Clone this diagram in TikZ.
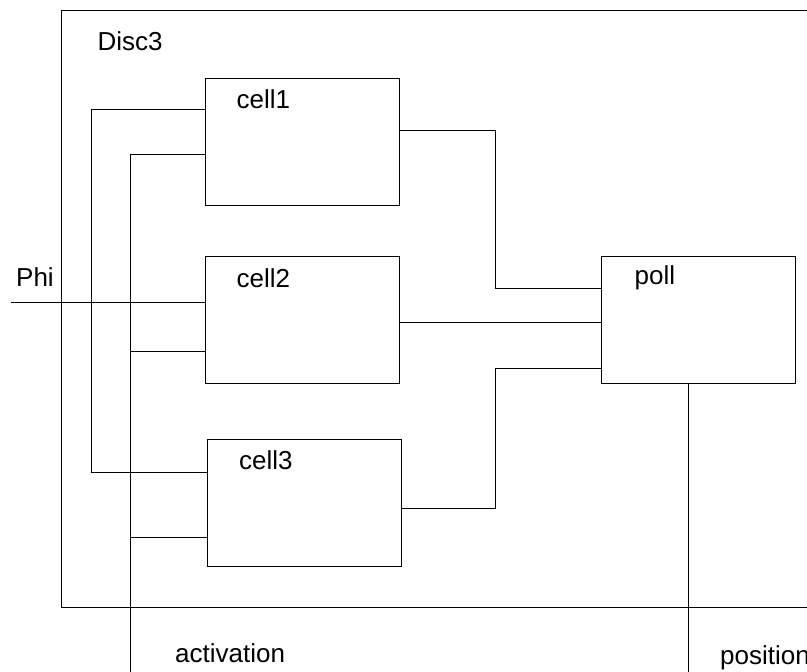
\documentclass[tikz,border=0pt]{standalone}
\usepackage{fontspec}
\setmainfont{Liberation Sans}
\usepackage{tikz}
\usetikzlibrary{positioning, calc}
\tikzset{
  discbox/.style={draw=black, line width=1pt, rectangle, inner sep=0pt},
  cellbox/.style={draw=black, line width=1pt, rectangle, inner sep=0pt,
                  minimum width=194pt, minimum height=127pt},
  celltext/.style={inner sep=0pt, anchor=west,
                   font=\fontsize{26}{30}\selectfont},
  wire/.style={draw=black, line width=0.9pt},
}

\begin{document}
\begin{tikzpicture}[x=1pt, y=-1pt]
    \useasboundingbox (0,0) rectangle (807,672);
    \clip (0,0) rectangle (807,672);
    % container
    \node[discbox, minimum width=769pt, minimum height=597pt] (disc) at (445.5,308.5) {};
    \node[celltext] (disclbl) at ([shift={(37,32)}]disc.north west) {Disc3};
    % cells and poll
    \foreach \n/\x/\y in {cell1/302/141.5,cell2/302/320,cell3/304.5/502.5,poll/698/319.5}{
      \node[cellbox] (\n) at (\x,\y) {};
    }
    \foreach \n/\dx in {cell1/32,cell2/32,cell3/32,poll/34}{
      \node[celltext] (\n-lbl) at ([shift={(\dx,22)}]\n.north west) {\n};
    }
    % bus and wire points
    \coordinate (oa) at (91,109);
    \coordinate (ob) at (91,472);
    \coordinate (ia) at (130,154);
    \coordinate (i2) at (130,351);
    \coordinate (i3) at (130,537);
    \coordinate (ib) at (130,672);
    \coordinate (phi) at (11,302);
    \coordinate (j1) at (495,130);
    \coordinate (k1) at (495,288);
    \coordinate (m2) at (400,322);
    \coordinate (j3) at (495,508);
    \coordinate (k3) at (495,368);
    \coordinate (pa) at (688,383);
    \coordinate (pb) at (688,672);
    % left side
    \draw[wire] (cell1.west |- oa) -- (oa) -- (ob) -- (cell3.west |- ob);
    \draw[wire] (cell1.west |- ia) -- (ia) -- (ib);
    \draw[wire] (i2) -- (cell2.west |- i2);
    \draw[wire] (i3) -- (cell3.west |- i3);
    \draw[wire] (phi) -- (cell2.west |- phi);
    % right side
    \draw[wire] (cell1.east |- j1) -| (k1) -- (poll.west |- k1);
    \draw[wire] (cell2.east |- m2) -- (poll.west |- m2);
    \draw[wire] (cell3.east |- j3) -| (k3) -- (poll.west |- k3);
    \draw[wire] (poll.south -| pa) -- (pb);
    % outside labels
    \node[celltext] (philbl) at (16,277) {Phi};
    \node[celltext] (actlbl) at (175,653) {activation};
    \node[celltext] (poslbl) at (720,658) {position};
  \end{tikzpicture}
\end{document}
